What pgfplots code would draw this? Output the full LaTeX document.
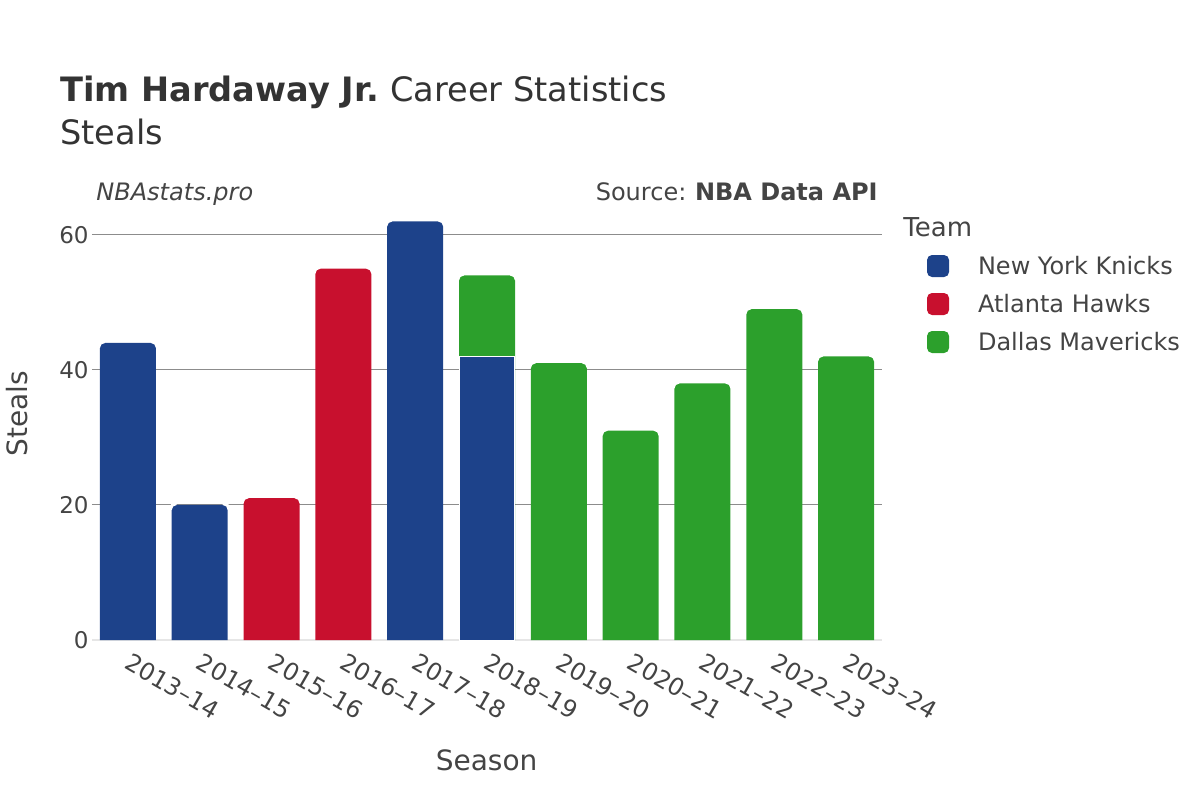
\documentclass[border=0pt]{standalone}
\usepackage{pgfplots}
\pgfplotsset{compat=1.18}
\usepackage{fontspec}
\setmainfont{DejaVu Sans}
\definecolor{nyk}{HTML}{1D428A}
\definecolor{atl}{HTML}{C8102E}
\definecolor{dal}{HTML}{2CA02C}
\definecolor{txt}{HTML}{444444}
\definecolor{ttl}{HTML}{333333}
\definecolor{gridc}{HTML}{8C8C8C}
\definecolor{zeroc}{HTML}{E6E6E6}
% white notches that round the two top corners of a 28pt-wide bar
\pgfdeclareplotmark{rtop}{%
  \pgfpathmoveto{\pgfqpoint{-14.4pt}{0.4pt}}%
  \pgfpathlineto{\pgfqpoint{-11.5pt}{0.4pt}}%
  \pgfpathlineto{\pgfqpoint{-11.5pt}{0pt}}%
  \pgfpathcurveto{\pgfqpoint{-12.88pt}{0pt}}{\pgfqpoint{-14pt}{-1.12pt}}{\pgfqpoint{-14pt}{-2.5pt}}%
  \pgfpathlineto{\pgfqpoint{-14.4pt}{-2.5pt}}%
  \pgfpathclose
  \pgfpathmoveto{\pgfqpoint{14.4pt}{0.4pt}}%
  \pgfpathlineto{\pgfqpoint{11.5pt}{0.4pt}}%
  \pgfpathlineto{\pgfqpoint{11.5pt}{0pt}}%
  \pgfpathcurveto{\pgfqpoint{12.88pt}{0pt}}{\pgfqpoint{14pt}{-1.12pt}}{\pgfqpoint{14pt}{-2.5pt}}%
  \pgfpathlineto{\pgfqpoint{14.4pt}{-2.5pt}}%
  \pgfpathclose
  \pgfusepathqfill}
\begin{document}
\begin{tikzpicture}
\useasboundingbox (0,0) rectangle (600pt,400pt);
\node[anchor=base west, text=ttl, font=\fontsize{16.8}{20}\selectfont, inner sep=0pt] at (30pt,349pt) {\textbf{Tim Hardaway Jr.}\hspace{-0.08em} Career Statistics};
\node[anchor=base west, text=ttl, font=\fontsize{16.8}{20}\selectfont, inner sep=0pt] at (30pt,327.5pt) {Steals};
\node[anchor=base west, text=txt, font=\fontsize{12}{14}\selectfont\itshape, inner sep=0pt] at (48pt,300pt) {NBAstats.pro};
\node[anchor=base east, text=txt, font=\fontsize{12}{14}\selectfont, inner sep=0pt] at (439pt,300pt) {Source:\hspace{-0.06em} \textbf{NBA Data API}};
\node[anchor=base west, text=txt, font=\fontsize{13}{15}\selectfont, inner sep=0pt] at (451.5pt,282pt) {Team};
\node[anchor=base, text=txt, font=\fontsize{14}{16}\selectfont, inner sep=0pt] at (243.3pt,15pt) {Season};
\node[anchor=base, rotate=90, text=txt, font=\fontsize{14}{16}\selectfont, inner sep=0pt] at (13.5pt,193pt) {Steals};
\begin{axis}[
  at={(46pt,80pt)}, anchor=south west,
  scale only axis, width=395pt, height=220.4pt,
  xmin=-0.5, xmax=10.5, ymin=0, ymax=65.3,
  axis line style={draw=none},
  tick style={draw=none},
  xtick={0,...,10},
  xticklabels={2013--14,2014--15,2015--16,2016--17,2017--18,2018--19,2019--20,2020--21,2021--22,2022--23,2023--24},
  ytick={20,40,60},
  extra y ticks={0},
  extra y tick style={grid style={color=zeroc, line width=1.2pt}},
  ymajorgrids,
  grid style={color=gridc, line width=0.5pt},
  /pgf/number format/assume math mode=true,
  ticklabel style={text=txt, font=\fontsize{11.5}{13}\selectfont},
  xticklabel style={font=\fontsize{12}{14}\selectfont, inner sep=0pt, xshift=2pt, yshift=-6pt, rotate=-30, anchor=north west},
  yticklabel style={inner sep=0pt, anchor=east, xshift=-1.5pt},
  legend cell align=left,
  legend style={at={(axis description cs:1.0570,0.8734)}, anchor=north west,
    draw=none, fill=none, inner sep=0pt, outer sep=0pt, row sep=8pt,
    font=\fontsize{12}{14}\selectfont, text=txt,
    nodes={inner sep=0pt, text height=8.75pt, text depth=0pt}},
]
\addplot[ybar, bar width=28pt, bar shift=0pt, fill=nyk, draw=none,
  legend image code/.code={\fill[rounded corners=2.5pt] (0pt,-5.5pt) rectangle (11pt,5.5pt); \path (25.5pt,0pt);}]
  coordinates {(0,44) (1,20) (4,62)};
\addlegendentry{New York Knicks}
\addplot[ybar, bar width=28pt, bar shift=0pt, fill=atl, draw=none,
  legend image code/.code={\fill[rounded corners=2.5pt] (0pt,-5.5pt) rectangle (11pt,5.5pt); \path (25.5pt,0pt);}]
  coordinates {(2,21) (3,55)};
\addlegendentry{Atlanta Hawks}
\addplot[ybar, bar width=28pt, bar shift=0pt, fill=dal, draw=none,
  legend image code/.code={\fill[rounded corners=2.5pt] (0pt,-5.5pt) rectangle (11pt,5.5pt); \path (25.5pt,0pt);}]
  coordinates {(5,54) (6,41) (7,31) (8,38) (9,49) (10,42)};
\addlegendentry{Dallas Mavericks}
% New York Knicks part of 2018-19, below the Dallas part
\addplot[ybar, bar width=27.5pt, bar shift=0pt, fill=nyk, draw=white, line width=0.5pt, forget plot]
  coordinates {(5,42)};
% rounded top corners
\addplot[only marks, mark=rtop, color=white, forget plot]
  coordinates {(0,44) (1,20) (2,21) (3,55) (4,62) (5,54) (6,41) (7,31) (8,38) (9,49) (10,42)};
\end{axis}
\end{tikzpicture}
\end{document}
